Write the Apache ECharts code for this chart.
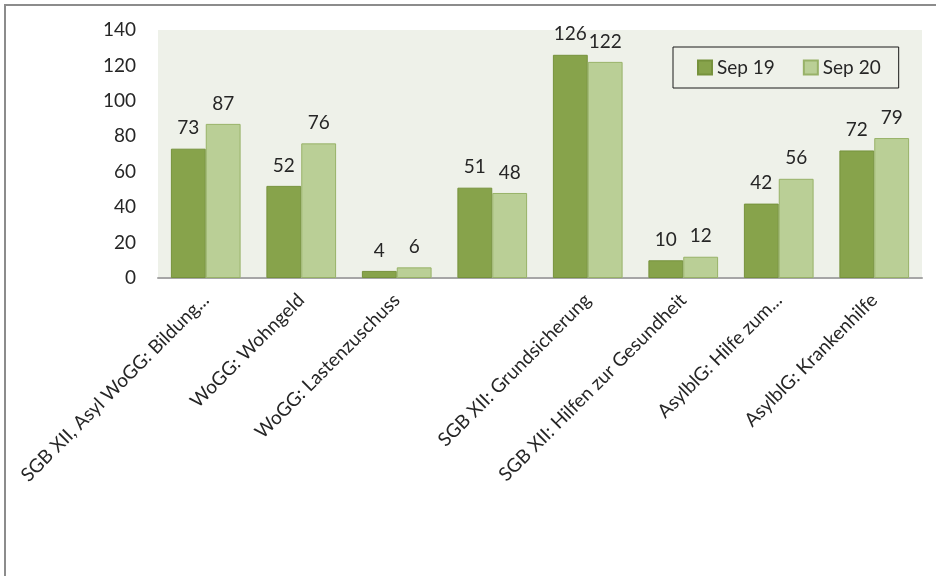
<!DOCTYPE html>
<html>
<head>
<meta charset="utf-8">
<script src="https://cdn.jsdelivr.net/npm/echarts@6/dist/echarts.min.js"></script>
<style>
  html, body { margin: 0; padding: 0; background: #ffffff; }
  #chart { width: 936px; height: 576px; }
</style>
</head>
<body>
<div id="chart"></div>
<script>
// Leistungsbereiche auf der x-Achse; die vierte Position trägt keine Beschriftung
const categories = [
  'SGB XII, Asyl WoGG: Bildung...',
  'WoGG: Wohngeld',
  'WoGG: Lastenzuschuss',
  '',
  'SGB XII: Grundsicherung',
  'SGB XII: Hilfen zur Gesundheit',
  'AsylblG: Hilfe zum...',
  'AsylblG: Krankenhilfe'
];
// Fallzahlen je Stichtag
const sep19 = [73, 52, 4, 51, 126, 10, 42, 72];
const sep20 = [87, 76, 6, 48, 122, 12, 56, 79];
const seriesNames = ['Sep 19', 'Sep 20'];
// Skala der y-Achse
const yTicks = { min: 0, max: 140, interval: 20 };

const chart = echarts.init(document.getElementById('chart'), null, { renderer: 'canvas' });
const font = 'Lato, "Open Sans", sans-serif';
const textColor = '#262626';

const labelStyle = {
  show: true,
  position: 'top',
  distance: 11,
  fontFamily: font,
  fontSize: 19,
  color: textColor
};

chart.setOption({
  animation: false,
  backgroundColor: '#ffffff',
  textStyle: { fontFamily: font },
  graphic: [{
    type: 'rect',
    shape: { x: 5, y: 5, width: 1000, height: 1000 },
    style: { fill: 'none', stroke: '#8c8c8c', lineWidth: 2 },
    silent: true
  }],
  grid: {
    left: 158, right: 14, top: 30, bottom: 298,
    show: true, backgroundColor: '#eef1e9', borderWidth: 0
  },
  legend: {
    left: 673, top: 47,
    orient: 'horizontal',
    itemWidth: 14, itemHeight: 14, itemGap: 28,
    padding: [11, 18, 11, 24],
    borderColor: '#1a1a1a', borderWidth: 1,
    textStyle: { fontFamily: font, fontSize: 19, color: textColor },
    icon: 'rect',
    data: seriesNames
  },
  xAxis: {
    type: 'category',
    data: categories,
    axisLine: { show: true, lineStyle: { color: '#a6a6a6', width: 2 } },
    axisTick: { show: false },
    axisLabel: {
      interval: 0,
      rotate: 45,
      margin: 19,
      fontFamily: font,
      fontSize: 19,
      color: textColor
    }
  },
  yAxis: {
    type: 'value',
    min: yTicks.min, max: yTicks.max, interval: yTicks.interval,
    axisLine: { show: false },
    axisTick: { show: false },
    splitLine: { show: false },
    axisLabel: { margin: 22, fontFamily: font, fontSize: 19, color: textColor }
  },
  series: [
    {
      name: seriesNames[0],
      type: 'bar',
      data: sep19,
      barGap: '0%',
      barCategoryGap: '27%',
      itemStyle: { color: '#87a34b', borderColor: '#76923c', borderWidth: 1 },
      label: labelStyle
    },
    {
      name: seriesNames[1],
      type: 'bar',
      data: sep20,
      itemStyle: { color: '#bacf96', borderColor: '#98b268', borderWidth: 1 },
      label: labelStyle
    }
  ]
});
</script>
</body>
</html>
